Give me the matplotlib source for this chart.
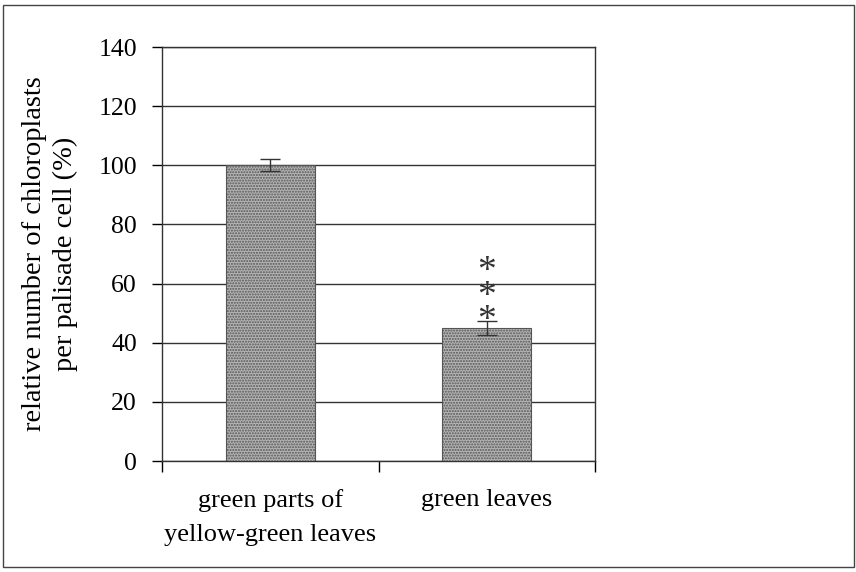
import matplotlib
matplotlib.use("Agg")
import matplotlib.pyplot as plt
from matplotlib.patches import Rectangle

categories = ["green parts of\nyellow-green leaves", "green leaves"]
values = [100, 45]
errors = [2, 2.5]
significance = ["", "***"]
yticks = [0, 20, 40, 60, 80, 100, 120, 140]

plt.rcParams["font.family"] = ["Liberation Serif", "DejaVu Serif"]
plt.rcParams["hatch.color"] = "#6a6a6a"

W, H = 856, 572
fig = plt.figure(figsize=(W / 100, H / 100), dpi=100)
# outer frame around the whole figure
fig.patches.append(Rectangle((3 / W, 5 / H), 851 / W, 562 / H, transform=fig.transFigure,
                             fill=False, edgecolor="#444444", lw=1.0))

ax = fig.add_axes([162 / W, 1 - 461 / H, (595 - 162) / W, (461 - 47) / H])
x = list(range(len(categories)))
ax.bar(x, values, width=0.41, color="#b4b4b4", edgecolor="#555555", hatch="......",
       lw=0.8, zorder=3)
ax.errorbar(x, values, yerr=errors, fmt="none", ecolor="#333333", elinewidth=1.0,
            capsize=7, capthick=1.0, zorder=4)
for xi, v, e, s in zip(x, values, errors, significance):
    if s:
        ax.text(xi, v + e - 6.0, "\n".join(s), ha="center", va="bottom",
                fontsize=27, linespacing=0.62, color="#333333", zorder=5)

ax.set_xlim(-0.5, 1.5)
ax.set_ylim(0, 140)
ax.set_yticks(yticks)
ax.yaxis.grid(True, color="#333333", lw=1.0, zorder=0)
ax.set_axisbelow(True)
ax.set_xticks([-0.5, 0.5, 1.5])
ax.set_xticklabels([])
ax.set_xticks(x, minor=True)
ax.set_xticklabels(categories, minor=True, fontsize=19, linespacing=1.7)
ax.tick_params(axis="x", which="minor", length=0, pad=20)
ax.tick_params(axis="x", which="major", length=8, direction="out", width=1.0)
ax.tick_params(axis="y", length=7, direction="out", width=1.0, labelsize=18.5, pad=11)
for sp in ax.spines.values():
    sp.set_color("#333333")
    sp.set_linewidth(1.0)
ax.set_ylabel("relative number of chloroplasts\nper palisade cell (%)", fontsize=20.5,
              linespacing=1.3, labelpad=15)

fig.savefig("out.png", dpi=100)
